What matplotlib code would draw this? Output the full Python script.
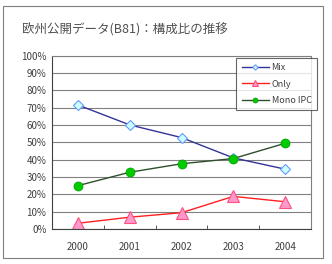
import matplotlib
matplotlib.use("Agg")
from matplotlib import pyplot as plt
from matplotlib.patches import Rectangle

plt.rcParams['font.family'] = ['Noto Sans CJK JP', 'DejaVu Sans']

years = ['2000', '2001', '2002', '2003', '2004']
mix = [71.5, 60, 52.7, 41, 34.5]
only = [3.3, 6.8, 9.4, 18.8, 15.7]
mono_ipc = [25, 32.7, 37.6, 40.6, 49.4]

W, H = 332, 264
fig = plt.figure(figsize=(W / 100, H / 100), dpi=100)
fig.patch.set_facecolor('white')

# outer chart border
fig.patches.append(Rectangle((3 / W, 6 / H), 320 / W, 252 / H, transform=fig.transFigure,
                             fill=False, edgecolor='#7f7f7f', linewidth=0.8))

fig.text(22 / W, 1 - 30 / H, '欧州公開データ(B81)：構成比の推移', fontsize=9,
         color='#505050', va='center', ha='left')

ax = fig.add_axes([52 / W, 1 - 229 / H, 259 / W, 173.5 / H])
x = list(range(len(years)))

ax.plot(x, mix, color='#333399', linewidth=1.0, marker='D', markersize=5,
        markerfacecolor='#ccffff', markeredgecolor='#6699ff', markeredgewidth=0.8, label='Mix')
ax.plot(x, only, color='#ff2020', linewidth=1.0, marker='^', markersize=8,
        markerfacecolor='#ff99cc', markeredgecolor='#ff5080', markeredgewidth=0.8, label='Only')
ax.plot(x, mono_ipc, color='#2f4f2f', linewidth=1.0, marker='o', markersize=6.5,
        markerfacecolor='#00cc00', markeredgecolor='#009900', markeredgewidth=0.5, label='Mono IPC')

ax.set_xlim(-0.5, len(years) - 0.5)
ax.set_ylim(0, 100)
ax.set_yticks(range(0, 101, 10))
ax.set_yticklabels([f'{v}%' for v in range(0, 101, 10)])
ax.set_xticks(x)
ax.set_xticklabels(years)
ax.set_xticks([i + 0.5 for i in x[:-1]], minor=True)
ax.tick_params(axis='x', which='major', length=0, pad=9, labelsize=7, colors='#404040')
ax.tick_params(axis='x', which='minor', direction='in', length=3, color='#404040')
ax.tick_params(axis='y', length=0, pad=4, labelsize=7, colors='#404040')
ax.grid(axis='y', color='#808080', linewidth=0.8)
ax.set_axisbelow(True)
for s in ax.spines.values():
    s.set_color('#808080')
    s.set_linewidth(0.8)
ax.spines['bottom'].set_color('#404040')
ax.spines['left'].set_color('#404040')

leg = ax.legend(loc='upper right', bbox_to_anchor=(317 / W, 1 - 58 / H),
                bbox_transform=fig.transFigure, fontsize=6.5, frameon=True, fancybox=False,
                borderpad=0.6, labelspacing=0.8, handlelength=3, handletextpad=0.3,
                borderaxespad=0, markerscale=0.55)
leg.get_frame().set_edgecolor('#404040')
leg.get_frame().set_linewidth(0.8)
for t in leg.get_texts():
    t.set_color('#404040')

fig.savefig('out.png', dpi=100)
